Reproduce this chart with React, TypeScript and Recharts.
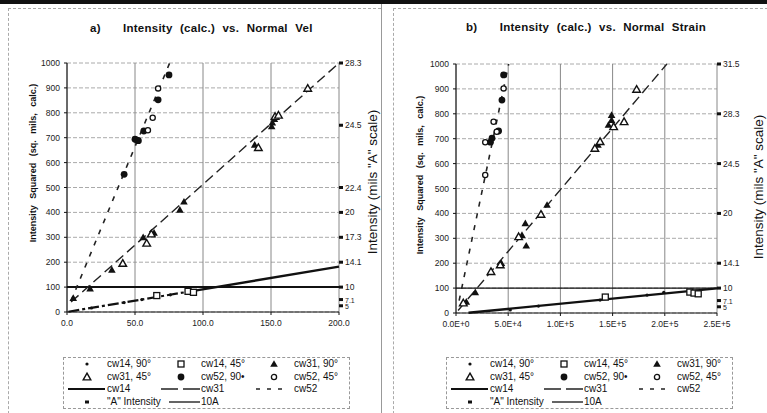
import React from "react";
import {
  ComposedChart,
  Line,
  Scatter,
  XAxis,
  YAxis,
  CartesianGrid,
} from "recharts";

const FONT = "'Liberation Sans', Arial, sans-serif";

// ---- panel a: normal velocity ----
const velTicksX = [0, 50, 100, 150, 200];
const intTicksY = [0, 100, 200, 300, 400, 500, 600, 700, 800, 900, 1000];

const velCw14_90 = [
  { x: 18, y: 16 },
  { x: 42, y: 38 },
  { x: 55, y: 50 },
  { x: 76, y: 69 },
];
const velCw14_45 = [
  { x: 66, y: 66 },
  { x: 89, y: 83 },
  { x: 93, y: 79 },
];
const velCw31_90 = [
  { x: 4.6, y: 56 },
  { x: 17, y: 94 },
  { x: 33, y: 169 },
  { x: 56, y: 300 },
  { x: 64, y: 318 },
  { x: 83, y: 410 },
  { x: 86, y: 443 },
  { x: 138, y: 671 },
  { x: 150.5, y: 745 },
  { x: 151, y: 760 },
  { x: 152.5, y: 775 },
];
const velCw31_45 = [
  { x: 41, y: 195 },
  { x: 58.6, y: 276 },
  { x: 62, y: 313 },
  { x: 140.7, y: 660 },
  { x: 153, y: 785 },
  { x: 155.5, y: 790 },
  { x: 177, y: 898 },
];
const velCw52_90 = [
  { x: 42, y: 553 },
  { x: 50, y: 694 },
  { x: 51.5, y: 690 },
  { x: 52.5, y: 688 },
  { x: 56.5, y: 727 },
  { x: 67, y: 852 },
  { x: 75, y: 952 },
];
const velCw52_45 = [
  { x: 59.5, y: 730 },
  { x: 63, y: 780 },
  { x: 67, y: 898 },
];
const velFit14Low = [
  { x: 1, y: 1 },
  { x: 93, y: 85 },
];
const velFit14High = [
  { x: 93, y: 85 },
  { x: 200, y: 182 },
];
const velFit31 = [
  { x: 3, y: 40 },
  { x: 200, y: 1000 },
];
const velFit52 = [
  { x: 3, y: 45 },
  { x: 75.5, y: 1000 },
];
const velTenA = [
  { x: 0, y: 100 },
  { x: 200, y: 100 },
];
const velAPos = [1000, 750, 500, 400, 300, 200, 100, 50, 25];
const velALabels = ["28.3", "24.5", "22.4", "20", "17.3", "14.1", "10", "7.1", "5"];

// ---- panel b: normal strain ----
const strTicksX = [0, 50000, 100000, 150000, 200000, 250000];

const strCw14_90 = [
  { x: 52000, y: 12 },
  { x: 79000, y: 28 },
  { x: 138000, y: 52 },
  { x: 183000, y: 72 },
  { x: 199000, y: 83 },
];
const strCw14_45 = [
  { x: 143000, y: 64 },
  { x: 224000, y: 84 },
  { x: 228000, y: 80 },
  { x: 232000, y: 77 },
];
const strCw31_90 = [
  { x: 9900, y: 45 },
  { x: 18500, y: 83 },
  { x: 43500, y: 200 },
  { x: 63200, y: 313 },
  { x: 66400, y: 360 },
  { x: 67300, y: 270 },
  { x: 87200, y: 434 },
  { x: 136000, y: 675 },
  { x: 146000, y: 755 },
  { x: 149000, y: 775 },
  { x: 149000, y: 795 },
];
const strCw31_45 = [
  { x: 7000, y: 40 },
  { x: 33500, y: 166 },
  { x: 42400, y: 193 },
  { x: 60000, y: 306 },
  { x: 81400, y: 396 },
  { x: 133000, y: 661 },
  { x: 138000, y: 688 },
  { x: 151000, y: 748 },
  { x: 161000, y: 768 },
  { x: 173000, y: 898 },
];
const strCw52_90 = [
  { x: 33000, y: 686 },
  { x: 34500, y: 702 },
  { x: 40800, y: 731 },
  { x: 44000, y: 855 },
  { x: 45600, y: 956 },
];
const strCw52_45 = [
  { x: 28000, y: 554 },
  { x: 28000, y: 686 },
  { x: 36000, y: 768 },
  { x: 39000, y: 728 },
  { x: 45600, y: 902 },
];
const strFit14 = [
  { x: 12000, y: 1 },
  { x: 250000, y: 99 },
];
const strFit31 = [
  { x: 2000, y: 10 },
  { x: 202000, y: 1000 },
];
const strFit52 = [
  { x: 3000, y: 50 },
  { x: 50500, y: 1000 },
];
const strTenA = [
  { x: 0, y: 100 },
  { x: 250000, y: 100 },
];
const strAPos = [1000, 800, 600, 400, 200, 100, 50, 25];
const strALabels = ["31.5", "28.3", "24.5", "20", "14.1", "10", "7.1", "5"];

const legendItems = [
  { sym: "dot", label: "cw14, 90°" },
  { sym: "openSquare", label: "cw14, 45°" },
  { sym: "triFill", label: "cw31, 90°" },
  { sym: "triOpen", label: "cw31, 45°" },
  { sym: "circFill", label: "cw52, 90•" },
  { sym: "circOpen", label: "cw52, 45°" },
  { sym: "lineSolid", label: "cw14" },
  { sym: "lineLong", label: "cw31" },
  { sym: "lineDash", label: "cw52" },
  { sym: "smallSquare", label: '"A" Intensity' },
  { sym: "lineThin", label: "10A" },
];

// ---- marker shapes ----
const Dot = (p: any) => <circle cx={p.cx} cy={p.cy} r={1.6} fill="#111" />;
const OpenSquare = (p: any) => (
  <rect x={p.cx - 3} y={p.cy - 3} width={6} height={6} fill="#fff" stroke="#111" strokeWidth={1.3} />
);
const triPath = (cx: number, cy: number, s: number) =>
  `M${cx},${cy - s} L${cx + s},${cy + s * 0.75} L${cx - s},${cy + s * 0.75} Z`;
const TriFill = (p: any) => <path d={triPath(p.cx, p.cy, 3.8)} fill="#111" />;
const TriOpen = (p: any) => (
  <path d={triPath(p.cx, p.cy, 3.8)} fill="#fff" stroke="#111" strokeWidth={1.4} />
);
const CircFill = (p: any) => <circle cx={p.cx} cy={p.cy} r={3.4} fill="#111" />;
const CircOpen = (p: any) => (
  <circle cx={p.cx} cy={p.cy} r={2.6} fill="#fff" stroke="#111" strokeWidth={1.3} />
);

// "A" intensity marks: small squares at the right edge with their mil values
const ATick = (p: any) => {
  const small = p.payload.y <= 50;
  return (
    <g>
      <rect x={p.cx} y={p.cy - 1.5} width={4} height={3} fill="#111" />
      <text x={p.cx + 6} y={p.cy + 3} fontSize={small ? 7 : 8.5} fill="#222" fontFamily={FONT}>
        {p.payload.label}
      </text>
    </g>
  );
};

const symbolFor = (sym: string) => {
  const c = 20;
  const cy = 6;
  switch (sym) {
    case "dot":
      return <Dot cx={c} cy={cy} />;
    case "openSquare":
      return <OpenSquare cx={c} cy={cy} />;
    case "triFill":
      return <TriFill cx={c} cy={cy} />;
    case "triOpen":
      return <TriOpen cx={c} cy={cy} />;
    case "circFill":
      return <CircFill cx={c} cy={cy} />;
    case "circOpen":
      return <CircOpen cx={c} cy={cy} />;
    case "smallSquare":
      return <rect x={c - 2} y={cy - 1.5} width={4} height={3} fill="#111" />;
    case "lineSolid":
      return <line x1={1} x2={38} y1={cy} y2={cy} stroke="#111" strokeWidth={2.2} />;
    case "lineLong":
      return (
        <line x1={0} x2={40} y1={cy} y2={cy} stroke="#222" strokeWidth={1.3} strokeDasharray="17 5" />
      );
    case "lineDash":
      return (
        <line x1={2} x2={30} y1={cy} y2={cy} stroke="#222" strokeWidth={1.4} strokeDasharray="4 7" />
      );
    case "lineThin":
      return <line x1={8} x2={39} y1={cy} y2={cy} stroke="#111" strokeWidth={1.3} />;
    default:
      return null;
  }
};

function LegendBox({ left }: { left: number }) {
  const colLeft = [3, 97, 190];
  return (
    <div
      style={{
        position: "absolute",
        left,
        top: 357,
        width: 287,
        height: 52,
        border: "1px dashed #999",
        boxSizing: "border-box",
        fontFamily: FONT,
        fontSize: 10,
        color: "#111",
      }}
    >
      {legendItems.map((it, i) => {
        const r = Math.floor(i / 3);
        const c = i % 3;
        return (
          <div
            key={it.label}
            style={{ position: "absolute", left: colLeft[c], top: r * 12.6, height: 12, whiteSpace: "nowrap" }}
          >
            <svg width={40} height={12} style={{ position: "absolute", left: 0, top: 0, overflow: "visible" }}>
              {symbolFor(it.sym)}
            </svg>
            <span style={{ position: "absolute", left: 40, top: 0, lineHeight: "12px" }}>{it.label}</span>
          </div>
        );
      })}
    </div>
  );
}

const tickStyle = { fontSize: 8.5, fill: "#222", fontFamily: FONT };

function Panel({
  width,
  margin,
  xDomain,
  xTicks,
  xFormat,
  low14,
  high14,
  fit31,
  fit52,
  tenA,
  tenAWidth,
  cw14_90,
  cw14_45,
  cw31_90,
  cw31_45,
  cw52_90,
  cw52_45,
  aPoints,
}: any) {
  return (
    <ComposedChart width={width} height={340} margin={margin}>
      <CartesianGrid vertical={false} stroke="#aaa" strokeDasharray="4 2" />
      <CartesianGrid horizontal={false} stroke="#888" />
      <XAxis
        type="number"
        dataKey="x"
        domain={xDomain}
        ticks={xTicks}
        tickFormatter={xFormat}
        tick={tickStyle}
        stroke="#111"
        tickSize={3}
        tickMargin={5}
        height={20}
        interval={0}
      />
      <YAxis
        type="number"
        dataKey="y"
        domain={[0, 1000]}
        ticks={intTicksY}
        tick={tickStyle}
        stroke="#111"
        tickSize={3}
        tickMargin={4}
        width={40}
        interval={0}
      />
      <Line data={tenA} dataKey="y" stroke="#111" strokeWidth={tenAWidth} dot={false} isAnimationActive={false} />
      {low14 && (
        <Line
          data={low14}
          dataKey="y"
          stroke="#111"
          strokeWidth={2.2}
          strokeDasharray="11 3 3 3"
          dot={false}
          isAnimationActive={false}
        />
      )}
      <Line data={high14} dataKey="y" stroke="#111" strokeWidth={2.4} dot={false} isAnimationActive={false} />
      <Line
        data={fit31}
        dataKey="y"
        stroke="#222"
        strokeWidth={1.4}
        strokeDasharray="10 5"
        dot={false}
        isAnimationActive={false}
      />
      <Line
        data={fit52}
        dataKey="y"
        stroke="#222"
        strokeWidth={1.6}
        strokeDasharray="5 7"
        dot={false}
        isAnimationActive={false}
      />
      <Scatter data={cw14_90} dataKey="y" shape={Dot} isAnimationActive={false} />
      <Scatter data={cw14_45} dataKey="y" shape={OpenSquare} isAnimationActive={false} />
      <Scatter data={cw31_90} dataKey="y" shape={TriFill} isAnimationActive={false} />
      <Scatter data={cw31_45} dataKey="y" shape={TriOpen} isAnimationActive={false} />
      <Scatter data={cw52_90} dataKey="y" shape={CircFill} isAnimationActive={false} />
      <Scatter data={cw52_45} dataKey="y" shape={CircOpen} isAnimationActive={false} />
      <Scatter data={aPoints} dataKey="y" shape={ATick} isAnimationActive={false} />
    </ComposedChart>
  );
}

const rotLabel = (text: string, cx: number, cy: number, size: number, bold: boolean, spacing: number) => (
  <div
    style={{
      position: "absolute",
      left: cx,
      top: cy,
      transform: "translate(-50%, -50%) rotate(-90deg)",
      whiteSpace: "nowrap",
      fontFamily: FONT,
      fontSize: size,
      fontWeight: bold ? "bold" : "normal",
      wordSpacing: spacing,
      color: "#111",
    }}
  >
    {text}
  </div>
);

const titleStyle = {
  position: "absolute" as const,
  whiteSpace: "nowrap" as const,
  fontFamily: FONT,
  fontWeight: "bold" as const,
  fontSize: 11.5,
  letterSpacing: 0.25,
  wordSpacing: 4,
  color: "#111",
};

export default function App() {
  const velA = velAPos.map((y, i) => ({ x: 200, y, label: velALabels[i] }));
  const strA = strAPos.map((y, i) => ({ x: 250000, y, label: strALabels[i] }));
  return (
    <div
      style={{
        position: "absolute",
        left: 0,
        top: 0,
        width: 767,
        height: 413,
        background: "#fff",
        overflow: "hidden",
      }}
    >
      <div style={{ position: "absolute", left: 0, top: 0, width: 767, height: 4, background: "#111" }} />
      <div
        style={{
          position: "absolute",
          left: 8,
          top: 8,
          width: 372,
          height: 420,
          borderLeft: "1px dashed #aaa",
          borderTop: "1px dashed #aaa",
        }}
      />
      <div style={{ position: "absolute", left: 381, top: 4, width: 1, height: 409, background: "#999" }} />
      <div
        style={{
          position: "absolute",
          left: 393,
          top: 8,
          width: 374,
          height: 420,
          borderLeft: "1px dashed #aaa",
          borderTop: "1px dashed #aaa",
        }}
      />

      <div style={{ ...titleStyle, left: 90, top: 22 }}>a)&nbsp;&nbsp; Intensity (calc.) vs. Normal Vel</div>
      <div style={{ ...titleStyle, left: 466, top: 21 }}>b)&nbsp;&nbsp; Intensity (calc.) vs. Normal Strain</div>

      <div style={{ position: "absolute", left: 0, top: 0 }}>
        <Panel
          width={383}
          margin={{ top: 63, right: 44, left: 27, bottom: 8 }}
          xDomain={[0, 200]}
          xTicks={velTicksX}
          xFormat={(v: number) => v.toFixed(1)}
          low14={velFit14Low}
          high14={velFit14High}
          fit31={velFit31}
          fit52={velFit52}
          tenA={velTenA}
          tenAWidth={2}
          cw14_90={velCw14_90}
          cw14_45={velCw14_45}
          cw31_90={velCw31_90}
          cw31_45={velCw31_45}
          cw52_90={velCw52_90}
          cw52_45={velCw52_45}
          aPoints={velA}
        />
      </div>
      <div style={{ position: "absolute", left: 383, top: 0 }}>
        <Panel
          width={384}
          margin={{ top: 64, right: 50, left: 33, bottom: 7 }}
          xDomain={[0, 250000]}
          xTicks={strTicksX}
          xFormat={(v: number) => v.toExponential(1).toUpperCase()}
          high14={strFit14}
          fit31={strFit31}
          fit52={strFit52}
          tenA={strTenA}
          tenAWidth={1.2}
          cw14_90={strCw14_90}
          cw14_45={strCw14_45}
          cw31_90={strCw31_90}
          cw31_45={strCw31_45}
          cw52_90={strCw52_90}
          cw52_45={strCw52_45}
          aPoints={strA}
        />
      </div>

      {rotLabel("Intensity Squared (sq. mils, calc.)", 33, 163, 9, true, 4)}
      {rotLabel("Intensity Squared (sq. mils, calc.)", 420, 175, 9, true, 4)}
      {rotLabel('Intensity (mils "A" scale)', 372, 182, 13.5, false, 0)}
      {rotLabel('Intensity (mils "A" scale)', 758, 187, 13.5, false, 0)}

      <LegendBox left={63} />
      <LegendBox left={446} />
    </div>
  );
}
